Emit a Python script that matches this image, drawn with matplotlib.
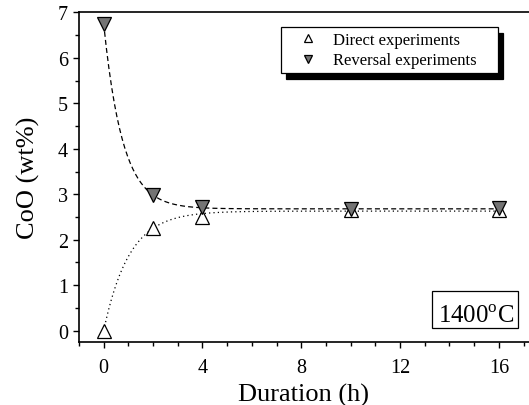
import matplotlib
matplotlib.use("Agg")
import matplotlib.pyplot as plt
from matplotlib.ticker import MultipleLocator
from matplotlib.patches import Rectangle
import numpy as np

plt.rcParams['font.family'] = ['Liberation Serif', 'DejaVu Serif']
plt.rcParams['mathtext.fontset'] = 'custom'
plt.rcParams['mathtext.rm'] = 'Liberation Serif'

# measured CoO content vs run duration
duration = [0, 2, 4, 10, 16]
direct = [0.0, 2.25, 2.50, 2.65, 2.65]
reversal = [6.75, 2.98, 2.72, 2.67, 2.70]

# exponential fits: y = eq + (y0 - eq) * exp(-k t)
direct_fit = dict(eq=2.63, y0=0.0, k=0.97)
reversal_fit = dict(eq=2.68, y0=6.75, k=1.30)

fig = plt.figure(figsize=(5.29, 4.06), dpi=100)
ax = fig.add_axes([0.1493, 0.155, 0.8507, 0.812])

t = np.linspace(0, 16, 300)
for p, ls in [(reversal_fit, (0, (4, 2.5))), (direct_fit, (0, (1, 2.5)))]:
    ax.plot(t, p['eq'] + (p['y0'] - p['eq']) * np.exp(-p['k'] * t),
            color='black', lw=0.9, linestyle=ls, zorder=2)

ax.plot(duration, direct, linestyle='none', marker='^', ms=10,
        mfc='white', mec='black', mew=0.9, label='Direct experiments', zorder=3)
ax.plot(duration, reversal, linestyle='none', marker='v', ms=10,
        mfc='#747474', mec='black', mew=0.9, label='Reversal experiments', zorder=4)

ax.set_xlim(-1, 17.22)
ax.set_ylim(-0.25, 7)
ax.xaxis.set_major_locator(MultipleLocator(4))
ax.xaxis.set_minor_locator(MultipleLocator(1))
ax.yaxis.set_major_locator(MultipleLocator(1))
ax.yaxis.set_minor_locator(MultipleLocator(0.5))
ax.tick_params(which='major', direction='out', length=4.5, width=1, labelsize=14.5)
ax.tick_params(which='minor', direction='out', length=3, width=1)
ax.tick_params(axis='x', which='major', pad=7)
ax.tick_params(axis='y', which='major', pad=3.5)
for s in ['left', 'bottom', 'top']:
    ax.spines[s].set_linewidth(1.2)
ax.spines['right'].set_visible(False)

ax.set_xlabel('Duration (h)', fontsize=19, labelpad=4)
ax.set_ylabel('CoO (wt%)', fontsize=19, labelpad=13)

leg = ax.legend(loc='upper left', bbox_to_anchor=(0.449, 0.82, 0.482, 0.135),
                mode='expand', borderaxespad=0,
                fontsize=12, markerscale=0.6, fancybox=False, framealpha=1,
                edgecolor='black', handlelength=2.6, handletextpad=0.2,
                labelspacing=0.25, borderpad=0.3,
                shadow={'ox': 3.6, 'oy': -3.8, 'color': 'black', 'alpha': 1})
leg.get_frame().set_linewidth(0.9)

# temperature tag in a plain box
ax.add_patch(Rectangle((0.785, 0.042), 0.190, 0.112, transform=ax.transAxes,
                       fc='white', ec='black', lw=0.9, zorder=5))
ax.text(0.798, 0.060, r'1400$^{\rm o}$C', transform=ax.transAxes, ha='left',
        va='baseline', fontsize=17.8, zorder=6)

fig.savefig('out.png', dpi=100)
